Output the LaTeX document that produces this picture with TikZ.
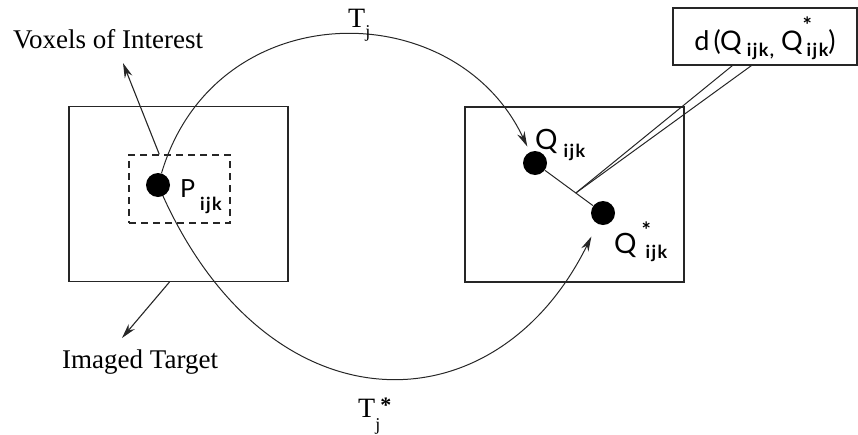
\documentclass[tikz,border=0pt]{standalone}
\usepackage{fontspec}
\setmainfont{Liberation Serif}
\newfontfamily\lbl{Lato}
\newfontfamily\lblsub[LetterSpace=8]{Lato}
\usetikzlibrary{arrows.meta,calc}
\newcommand\fsz[1]{\fontsize{#1}{#1}\selectfont}
\newcommand\lowsub[2]{\raisebox{-#2}{\lblsub\bfseries\fsz{18}#1}}
\newcommand\subsc[3]{\raisebox{-#3}{\fsz{#2}#1}}
\newcommand\starup[1]{\raisebox{#1}{\bfseries\fsz{22}*}}
\begin{document}
\begin{tikzpicture}[x=1pt,y=-1pt,
  frame/.style={draw=black!85,line width=1.2pt,minimum width=219pt,minimum height=175pt,inner sep=0},
  voxbox/.style={draw=black!85,line width=1.5pt,dash pattern=on 7pt off 5pt,minimum width=101pt,minimum height=68pt,inner sep=0},
  dot/.style={circle,fill=black,minimum size=24pt,inner sep=0},
  arr/.style={draw=black!85,line width=1pt,-{Stealth[length=15pt,width=8pt]}},
  thin/.style={draw=black!85,line width=1pt},
  txt/.style={inner sep=0,anchor=base west},
  lab/.style={txt,font=\lbl\fsz{28}},
  serif/.style={txt,font=\fsz{27}},
]
\useasboundingbox (0,0) rectangle (858,434);
% boxes
\node[frame] (lbox) at (178.5,194) {};
\node[frame] (rbox) at (574.5,194.5) {};
\node[voxbox] (voibox) at (179.5,189) {};
% dots
\node[dot] (Pd) at (158,185) {};
\node[dot] (Qd) at (535,163) {};
\node[dot] (Qs) at (603,213) {};
% labels of dots
\node[lab,font=\lbl\fsz{25}] (plab) at (180,197) {P\hspace{5pt}\lowsub{ijk}{13pt}};
\node[lab] (qlab) at (535,149) {Q\hspace{6pt}\lowsub{ijk}{8pt}};
\node[lab] (qslab) at (614,253) {Q\hspace{5pt}\rlap{\starup{15pt}}\hspace{4pt}\lowsub{ijk}{5pt}};
% distance box
\node[draw=black!85,line width=1.2pt,minimum width=184pt,minimum height=57pt,inner sep=0,
      text height=42pt,text depth=15pt,font=\lbl\fsz{27}] (dbox) at (765,36.5)
  {d\hspace{4pt}(Q\hspace{5pt}\lowsub{ijk,}{6pt}\hspace{7pt}Q\rlap{\starup{17pt}}\hspace{4pt}\lowsub{ijk}{6pt})};
% Q -- Q* and callout
\draw[thin] (Qd) -- (Qs);
\coordinate (meet) at ($(Qd)!0.6!(Qs)$);
\draw[thin] ($(dbox.south west)+(60,0)$) -- (meet);
\draw[thin] ($(dbox.south west)+(79,0)$) -- (meet);
% transformation arcs
\draw[arr,shorten >=6pt] (Pd) .. controls (215,-7) and (455,-7) .. (Qd);
\draw[arr,shorten >=14pt] (Pd) .. controls (270,432) and (495,432) .. (Qs);
\node[txt,font=\fsz{28}] (tj) at (348,27) {T\subsc{j}{18}{10pt}};
\node[txt,font=\fsz{28}] (tjs) at (358,417) {T\subsc{j}{18}{13pt}\raisebox{5pt}{\bfseries\fsz{22}*}};
% text labels with pointers
\node[serif] (voitxt) at (13,48) {Voxels of Interest};
\coordinate (voitip) at (123,63);
\draw[arr,line width=1.1pt] ($(voibox.north west)+(31,0)$) -- (voitip);
\node[serif] (imgtxt) at (62,368) {Imaged Target};
\coordinate (imgtip) at (122,338);
\draw[arr,line width=1.1pt] ($(lbox.south west)+(101,0)$) -- (imgtip);
\end{tikzpicture}
\end{document}
